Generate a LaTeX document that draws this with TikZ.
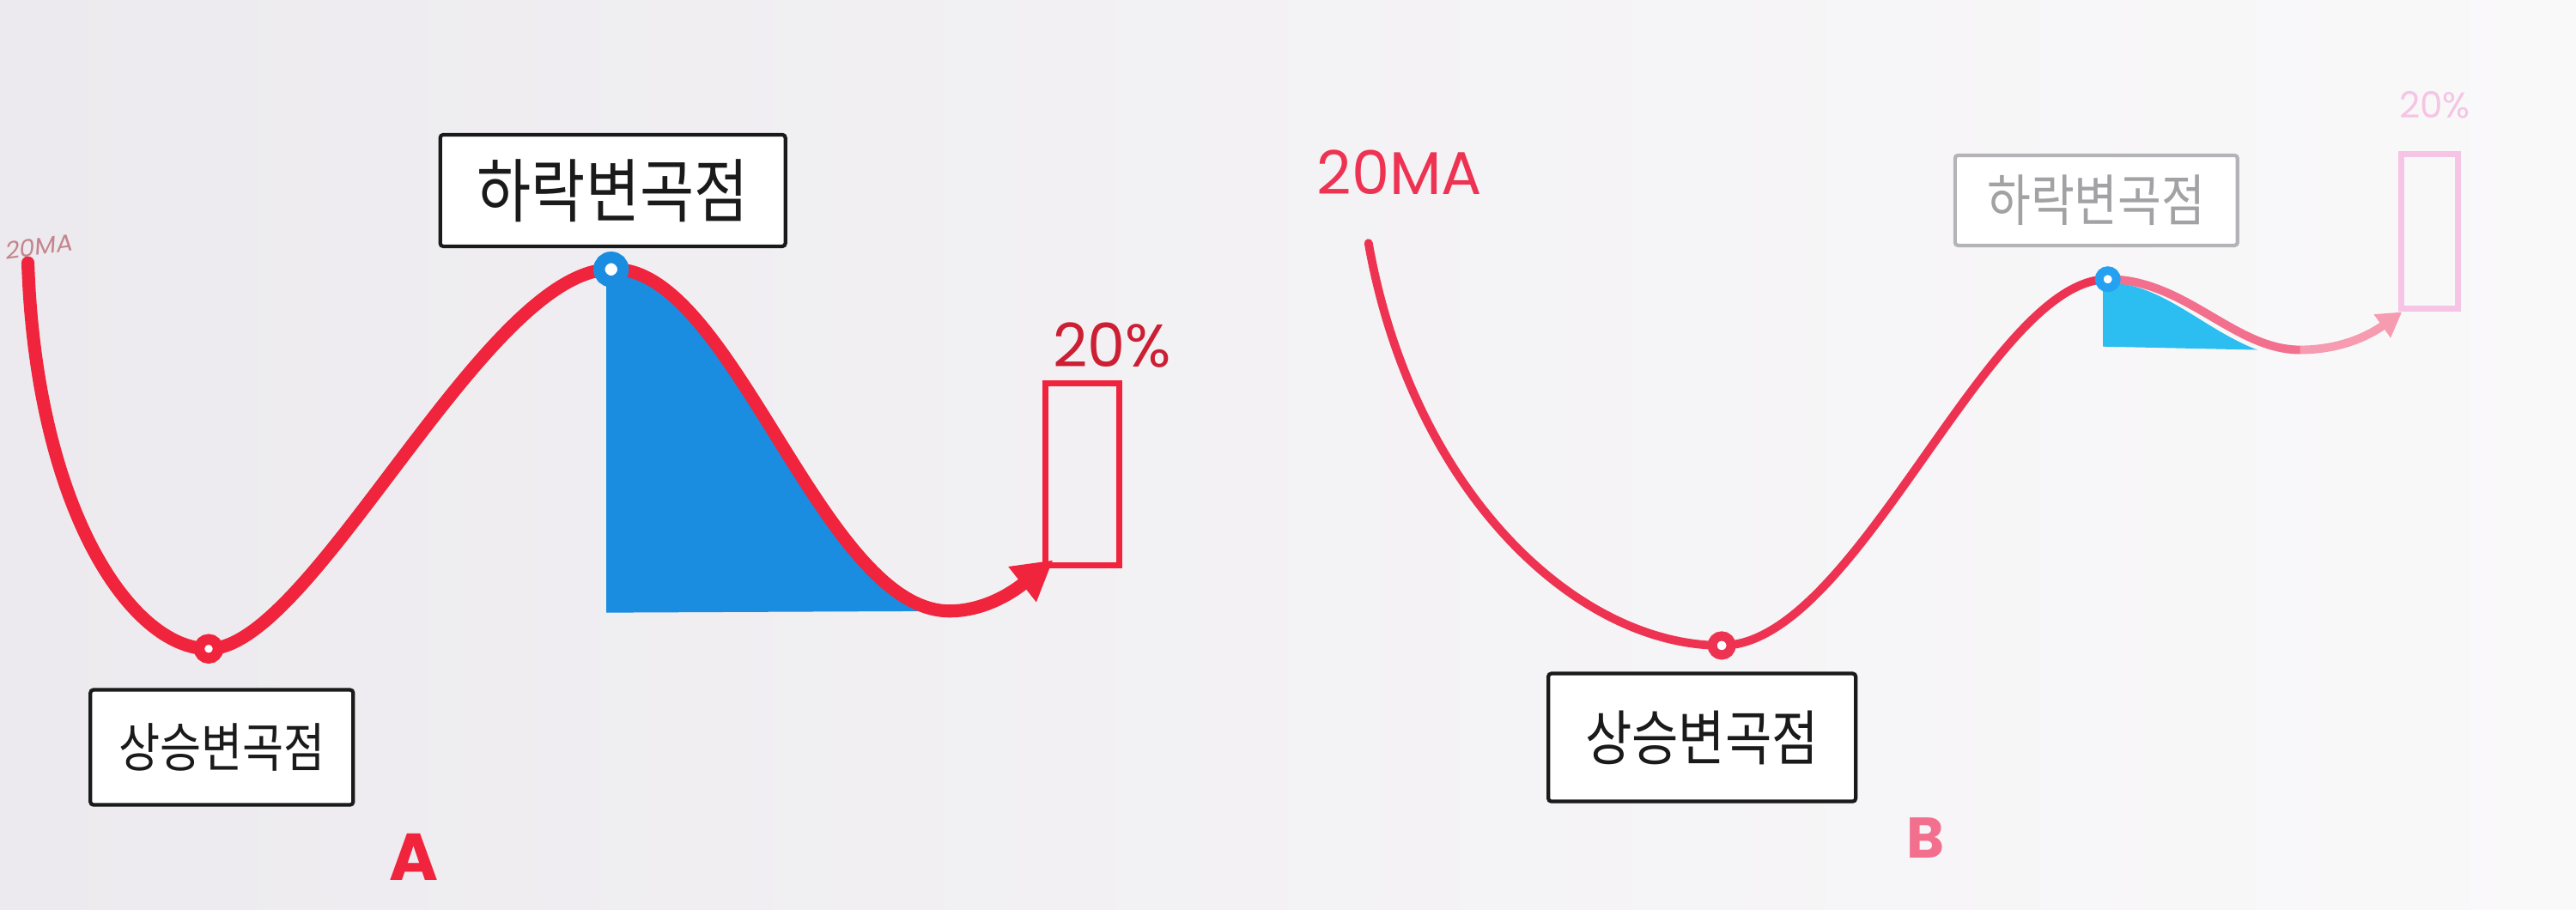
\documentclass[tikz,border=0pt]{standalone}
\usepackage{fontspec}
\setmainfont{Noto Sans CJK KR}
\newfontfamily\kr[FakeStretch=0.85]{Noto Sans CJK KR}
\newfontfamily\lat{Poppins}
\usetikzlibrary{arrows.meta}
\definecolor{bgL}{HTML}{ECEAEE}
\definecolor{bgR}{HTML}{FAF9FA}
\definecolor{redA}{HTML}{F0243C}
\definecolor{redB}{HTML}{EE3352}
\definecolor{redBf}{HTML}{F2708E}
\definecolor{blueA}{HTML}{1A8DE0}
\definecolor{blueB}{HTML}{2CBEF0}
\definecolor{ink}{HTML}{1A1A1A}
\definecolor{fadeGray}{HTML}{B4B4B8}
\definecolor{fadePink}{HTML}{F6C4E4}
\begin{document}
\begin{tikzpicture}[x=0.019133cm,y=-0.019133cm,
  labelbox/.style={draw=ink, line width=1.2pt, fill=white, rounded corners=1pt, inner sep=0pt, text=ink},
  marker/.style={circle, fill=white, inner sep=0pt},
  curveA/.style={draw=redA, line width=4.3pt, line cap=round},
  curveB/.style={line width=2.8pt, line cap=round},
  latin/.style={font=\lat\fontsize{20}{24}\selectfont}]
\useasboundingbox (0,0) rectangle (1568,554);
\shade[left color=bgL, right color=bgR] (0,0) rectangle (1568,554);

% ---------------- Panel A ----------------
\coordinate (a0) at (17,160);
\coordinate (amin) at (127,395);
\coordinate (apeak) at (372,164);
\coordinate (atr) at (578,372);
\coordinate (aend) at (641,341);

\fill[blueA] (369,373) -- (369,166) .. controls (445,160) and (500,372) .. (atr) -- cycle;

\draw[curveA] (a0) .. controls (22,310) and (80,395) .. (amin)
  .. controls (190,395) and (295,164) .. (apeak)
  .. controls (445,160) and (500,372) .. (atr);
\draw[curveA, line cap=butt, -{Triangle[length=13pt,width=14pt]}] (atr) .. controls (603,372) and (622,356) .. (aend);

\node[marker, draw=redA, line width=0.124cm, minimum size=0.22cm] (mA1) at (amin) {};
\node[marker, draw=blueA, line width=0.134cm, minimum size=0.28cm] (mA2) at (apeak) {};

\node[text=redA!60!ink, opacity=0.5, font=\lat\fontsize{8}{9}\selectfont, xslant=0.2, rotate=8] (maA) at (24,150) {20MA};

\node[labelbox, minimum width=4.02cm, minimum height=1.3cm, font=\kr\fontsize{23}{26}\selectfont] (downA) at (373,116) {하락변곡점};
\node[labelbox, minimum width=3.06cm, minimum height=1.34cm, font=\kr\fontsize{17.5}{20}\selectfont] (upA) at (135,455) {상승변곡점};

\node[draw=redA, line width=2pt, minimum width=0.86cm, minimum height=2.12cm, inner sep=0pt] (boxA) at (659,289) {};
\node[latin, text=redA!85!black] (pctA) at (677,210) {20\%};
\node[text=redA, font=\lat\bfseries\fontsize{22}{24}\selectfont] (lblA) at (252,522) {A};

% ---------------- Panel B ----------------
\coordinate (b0) at (833,148);
\coordinate (bmin) at (1048,393);
\coordinate (bpeak) at (1283,170);
\coordinate (btr) at (1400,213);
\coordinate (bend) at (1462,190);

\fill[blueB] (1280,211) -- (1280,172) .. controls (1315,171) and (1340,200) .. (1374,213) -- cycle;

\draw[curveB, draw=redB] (b0) .. controls (860,300) and (960,393) .. (bmin)
  .. controls (1130,393) and (1210,170) .. (bpeak);
\draw[curveB, draw=redBf] (bpeak) .. controls (1330,170) and (1360,213) .. (btr);
\draw[curveB, draw=redBf!70!white, line cap=butt, -{Triangle[length=8pt,width=9pt]}] (btr) .. controls (1430,213) and (1448,200) .. (bend);

\node[marker, draw=redB, line width=0.11cm, minimum size=0.22cm] (mB1) at (bmin) {};
\node[marker, draw=blueB!85!blue, line width=0.1cm, minimum size=0.2cm] (mB2) at (bpeak) {};

\node[latin, text=redB] (maB) at (852,105) {20MA};

\node[labelbox, draw=fadeGray, text=fadeGray!90!black, minimum width=3.29cm, minimum height=1.05cm, font=\kr\fontsize{18.5}{20}\selectfont] (downB) at (1276,122) {하락변곡점};
\node[labelbox, minimum width=3.58cm, minimum height=1.49cm, font=\kr\fontsize{19.8}{22}\selectfont] (upB) at (1036,449) {상승변곡점};

\node[draw=fadePink, line width=2pt, minimum width=0.66cm, minimum height=1.8cm, inner sep=0pt] (boxB) at (1479,141) {};
\node[text=fadePink, font=\lat\fontsize{12}{14}\selectfont] (pctB) at (1482,64) {20\%};
\node[text=redBf, font=\lat\bfseries\fontsize{19}{22}\selectfont] (lblB) at (1172,510) {B};
\end{tikzpicture}
\end{document}
